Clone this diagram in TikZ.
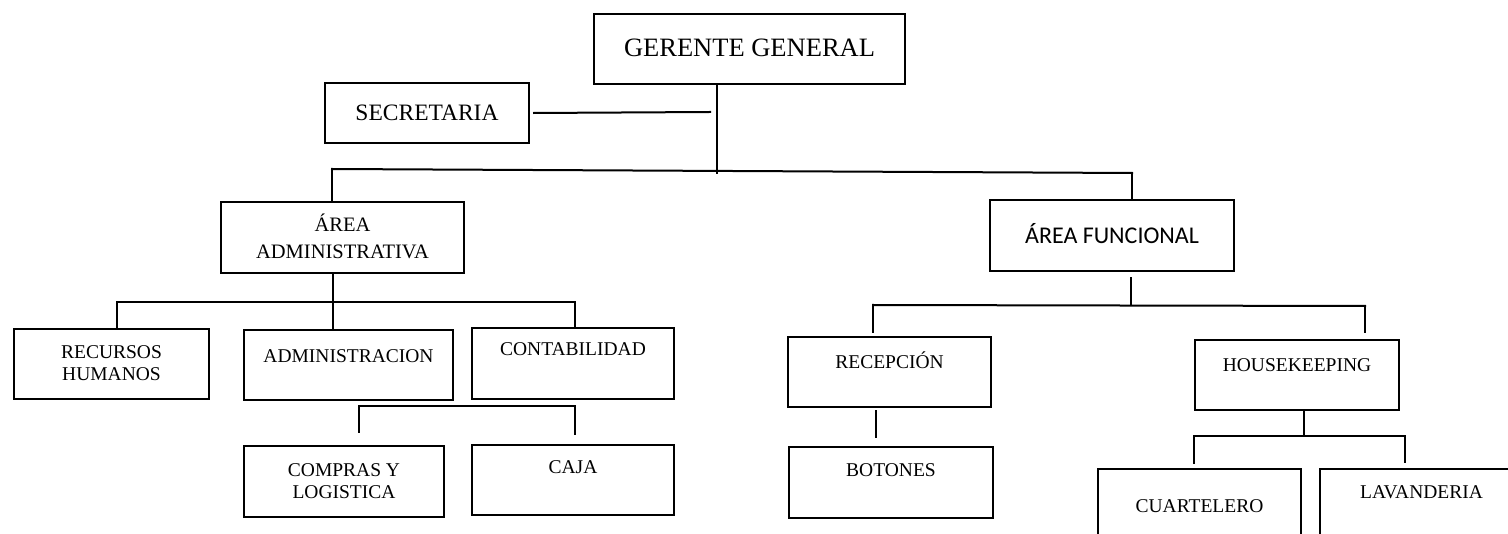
\documentclass[tikz,border=0pt]{standalone}
\usepackage{fontspec}
\setmainfont{Liberation Serif}
\newfontfamily\calibrifont{Carlito}
\usetikzlibrary{positioning}

\tikzset{
    orgbox/.style={
        rectangle, anchor=north west, inner sep=0pt,
        draw=black, line width=2pt,
    },
    orgtext/.style={
        anchor=base, inner sep=0pt, align=center,
        text=black, font=\fontsize{19.5}{22}\selectfont,
    },
    orgline/.style={draw=black, line width=2pt, line cap=rect},
}

\begin{document}
\begin{tikzpicture}[x=1pt, y=-1pt]
        \clip (0,0) rectangle (1508,534);
        \fill[white] (0,0) rectangle (1508,534);

        % boxes
        \node (gerente) at(593,13) [orgbox, minimum width=311pt, minimum height=70pt] {};
        \node (secretaria) at(324,82) [orgbox, minimum width=204pt, minimum height=60pt] {};
        \node (adminarea) at(220,201) [orgbox, minimum width=243pt, minimum height=71pt] {};
        \node (funcarea) at(989,199) [orgbox, minimum width=244pt, minimum height=71pt] {};
        \node (rrhh) at(13,328) [orgbox, minimum width=195pt, minimum height=70pt] {};
        \node (administracion) at(243,329) [orgbox, minimum width=209pt, minimum height=70pt] {};
        \node (contabilidad) at(471,327) [orgbox, minimum width=202pt, minimum height=71pt] {};
        \node (compras) at(243,445) [orgbox, minimum width=200pt, minimum height=71pt] {};
        \node (caja) at(471,444) [orgbox, minimum width=202pt, minimum height=70pt] {};
        \node (recepcion) at(787,336) [orgbox, minimum width=203pt, minimum height=70pt] {};
        \node (botones) at(788,446) [orgbox, minimum width=204pt, minimum height=71pt] {};
        \node (housekeeping) at(1194,339) [orgbox, minimum width=204pt, minimum height=70pt] {};
        \node (cuartelero) at(1097,468) [orgbox, minimum width=203pt, minimum height=100pt] {};
        \node (lavanderia) at(1319,468) [orgbox, minimum width=203pt, minimum height=100pt] {};

        % labels (base = last line)
        \node (gerente-txt) at(gerente.north) [orgtext, yshift=-44pt, font=\fontsize{26.5}{32}\selectfont] {GERENTE GENERAL};
        \node (secretaria-txt) at(secretaria.north) [orgtext, yshift=-39pt, font=\fontsize{23.5}{28}\selectfont] {SECRETARIA};
        \node (adminarea-txt) at(adminarea.north) [orgtext, yshift=-58pt, font=\fontsize{20.5}{27}\selectfont] {ÁREA\\ADMINISTRATIVA};
        \node (funcarea-txt) at(funcarea.north) [orgtext, yshift=-45pt, font=\calibrifont\fontsize{24}{29}\selectfont] {ÁREA FUNCIONAL};
        \node (rrhh-txt) at(rrhh.north) [orgtext, yshift=-53pt] {RECURSOS\\HUMANOS};
        \node (administracion-txt) at(administracion.north) [orgtext, yshift=-34pt] {ADMINISTRACION};
        \node (contabilidad-txt) at(contabilidad.north) [orgtext, yshift=-29pt] {CONTABILIDAD};
        \node (compras-txt) at(compras.north) [orgtext, yshift=-54pt] {COMPRAS Y\\LOGISTICA};
        \node (caja-txt) at(caja.north) [orgtext, yshift=-30pt] {CAJA};
        \node (recepcion-txt) at(recepcion.north) [orgtext, yshift=-33pt] {RECEPCIÓN};
        \node (botones-txt) at(botones.north) [orgtext, yshift=-31pt] {BOTONES};
        \node (housekeeping-txt) at(housekeeping.north) [orgtext, yshift=-33pt] {HOUSEKEEPING};
        \node (cuartelero-txt) at(cuartelero.north) [orgtext, yshift=-44pt] {CUARTELERO};
        \node (lavanderia-txt) at(lavanderia.north) [orgtext, yshift=-30pt] {LAVANDERIA};

        % junctions
        \coordinate (gg-j) at(717,173);
        \coordinate (sec-j) at(710,112);
        \coordinate (bar-l) at(332,169);
        \coordinate (bar-r) at(1132,173);
        \coordinate (adm-j) at(333,302);
        \coordinate (adm-l) at(117,302);
        \coordinate (adm-r) at(575,302);
        \coordinate (cnt-l) at(359,406);
        \coordinate (cnt-r) at(575,406);
        \coordinate (fun-j) at(1131,305);
        \coordinate (fun-l) at(873,305);
        \coordinate (fun-r) at(1365,306);
        \coordinate (rec-j) at(876,437);
        \coordinate (hk-j) at(1304,436);
        \coordinate (hk-l) at(1194,436);
        \coordinate (hk-r) at(1405,436);

        % connectors
        \draw[orgline] (gerente.south -| gg-j) -- (gg-j);
        \draw[orgline] ([xshift=4pt]secretaria.east) -- (sec-j);
        \draw[orgline] (bar-l) -- (bar-r);
        \draw[orgline] (bar-l) -- (bar-l |- adminarea.north);
        \draw[orgline] (bar-r) -- (bar-r |- funcarea.north);

        \draw[orgline] (adminarea.south -| adm-j) -- (adm-j);
        \draw[orgline] (adm-l) -- (adm-r);
        \draw[orgline] (adm-l) -- (adm-l |- rrhh.north);
        \draw[orgline] (adm-j) -- (adm-j |- administracion.north);
        \draw[orgline] (adm-r) -- (adm-r |- contabilidad.north);

        \draw[orgline] (cnt-l) -- (cnt-r);
        \draw[orgline] (cnt-l) -- ([yshift=13pt]cnt-l |- compras.north);
        \draw[orgline] (cnt-r) -- ([yshift=10pt]cnt-r |- caja.north);

        \draw[orgline] ([yshift=-6pt]funcarea.south -| fun-j) -- (fun-j);
        \draw[orgline] (fun-l) -- (fun-r);
        \draw[orgline] (fun-l) -- ([yshift=4pt]fun-l |- recepcion.north);
        \draw[orgline] (fun-r) -- ([yshift=7pt]fun-r |- housekeeping.north);
        \draw[orgline] ([yshift=-3pt]recepcion.south -| rec-j) -- (rec-j);

        \draw[orgline] (housekeeping.south -| hk-j) -- (hk-j);
        \draw[orgline] (hk-l) -- (hk-r);
        \draw[orgline] (hk-l) -- ([yshift=5pt]hk-l |- cuartelero.north);
        \draw[orgline] (hk-r) -- ([yshift=6pt]hk-r |- lavanderia.north);
\end{tikzpicture}
\end{document}
